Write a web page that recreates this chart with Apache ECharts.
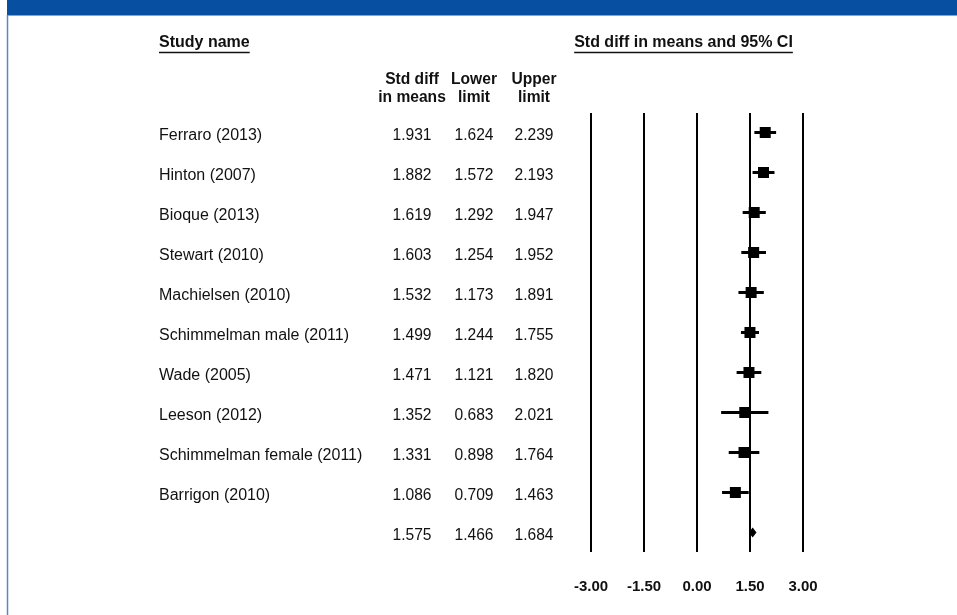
<!DOCTYPE html>
<html>
<head>
<meta charset="utf-8">
<script src="https://cdn.jsdelivr.net/npm/echarts@6/dist/echarts.min.js"></script>
<style>
  html, body { margin: 0; padding: 0; background: #fff; }
  #chart { width: 957px; height: 615px; }
</style>
</head>
<body>
<div id="chart"></div>
<script>
// Forest plot: standardized difference in means with 95% CI per study
const studies = [
  'Ferraro (2013)', 'Hinton (2007)', 'Bioque (2013)', 'Stewart (2010)',
  'Machielsen (2010)', 'Schimmelman male (2011)', 'Wade (2005)',
  'Leeson (2012)', 'Schimmelman female (2011)', 'Barrigon (2010)'
];
const means  = [1.931, 1.882, 1.619, 1.603, 1.532, 1.499, 1.471, 1.352, 1.331, 1.086];
const lowers = [1.624, 1.572, 1.292, 1.254, 1.173, 1.244, 1.121, 0.683, 0.898, 0.709];
const uppers = [2.239, 2.193, 1.947, 1.952, 1.891, 1.755, 1.820, 2.021, 1.764, 1.463];
// pooled estimate
const pooledMean  = [1.575];
const pooledLower = [1.466];
const pooledUpper = [1.684];
const axisTicks = [-3.0, -1.5, 0.0, 1.5, 3.0];

const FONT = '"Liberation Sans", Arial, sans-serif';
const TEXT = '#111';
const FS = 15.6;      // numbers and column headers
const FS_NAME = 16;   // study names
const FS_TITLE = 16;  // underlined titles

const chart = echarts.init(document.getElementById('chart'), null, { renderer: 'canvas' });

// text width helper for underlines
const measureCtx = document.createElement('canvas').getContext('2d');
function textWidth(str, weight, size) {
  measureCtx.font = weight + ' ' + size + 'px ' + FONT;
  return measureCtx.measureText(str).width;
}

const nRows = studies.length + 1; // studies + pooled row
const studyData = studies.map((s, i) => [i, means[i], lowers[i], uppers[i]]);
const pooledData = [[studies.length, pooledMean[0], pooledLower[0], pooledUpper[0]]];

// table rows: name, mean, lower, upper
const tableData = studies.map((s, i) => [i, s, means[i].toFixed(3), lowers[i].toFixed(3), uppers[i].toFixed(3)]);
tableData.push([studies.length, '', pooledMean[0].toFixed(3), pooledLower[0].toFixed(3), pooledUpper[0].toFixed(3)]);

const colName = 159, colMean = 412, colLower = 474, colUpper = 534;

function txt(x, y, str, align, weight, size) {
  return {
    type: 'text',
    x: x, y: y,
    style: {
      text: str, fill: TEXT, align: align || 'left', verticalAlign: 'middle',
      font: (weight || 'normal') + ' ' + (size || FS) + 'px ' + FONT
    }
  };
}

function underlinedTitle(x, y, str, align) {
  const w = textWidth(str, 'bold', FS_TITLE);
  const x0 = align === 'center' ? x - w / 2 : x;
  return [
    txt(x, y, str, align, 'bold', FS_TITLE),
    { type: 'line', shape: { x1: x0, y1: y + 9.5, x2: x0 + w, y2: y + 9.5 },
      style: { stroke: TEXT, lineWidth: 1.4 } }
  ];
}

const option = {
  animation: false,
  backgroundColor: '#fff',
  grid: { left: 591, width: 212, top: 113, height: 439, containLabel: false },
  xAxis: {
    type: 'value',
    min: axisTicks[0], max: axisTicks[axisTicks.length - 1], interval: 1.5,
    axisLine: { show: false },
    axisTick: { show: false },
    splitLine: { show: true, showMinLine: true, showMaxLine: true, lineStyle: { color: '#000', width: 2 } },
    axisLabel: {
      margin: 27,
      color: TEXT,
      fontFamily: FONT, fontWeight: 'bold', fontSize: 15,
      formatter: v => v.toFixed(2)
    }
  },
  yAxis: {
    type: 'value', inverse: true,
    min: -0.4875, max: nRows - 1 + 0.4875,
    show: false,
    splitLine: { show: false }
  },
  graphic: [
    { type: 'rect', shape: { x: 7, y: 0, width: 950, height: 15.5 }, style: { fill: '#074fa1' } },
    { type: 'line', shape: { x1: 7.5, y1: 15, x2: 7.5, y2: 615 }, style: { stroke: '#5d87bf', lineWidth: 1.5 } },
    ...underlinedTitle(colName, 43, 'Study name', 'left'),
    ...underlinedTitle(683.5, 43, 'Std diff in means and 95% CI', 'center'),
    txt(colMean, 80, 'Std diff', 'center', 'bold'),
    txt(colMean, 98, 'in means', 'center', 'bold'),
    txt(colLower, 80, 'Lower', 'center', 'bold'),
    txt(colLower, 98, 'limit', 'center', 'bold'),
    txt(colUpper, 80, 'Upper', 'center', 'bold'),
    txt(colUpper, 98, 'limit', 'center', 'bold')
  ],
  series: [
    {
      // study estimates: CI whisker + square
      type: 'custom',
      data: studyData,
      encode: { x: 1, y: 0 },
      renderItem: function (params, api) {
        const row = api.value(0);
        const c = api.coord([api.value(1), row]);
        const lo = api.coord([api.value(2), row]);
        const hi = api.coord([api.value(3), row]);
        const s = 11;
        return {
          type: 'group',
          children: [
            { type: 'line', shape: { x1: lo[0], y1: c[1], x2: hi[0], y2: c[1] },
              style: { stroke: '#000', lineWidth: 3 } },
            { type: 'rect', shape: { x: c[0] - s / 2, y: c[1] - s / 2, width: s, height: s },
              style: { fill: '#000' } }
          ]
        };
      }
    },
    {
      // pooled estimate diamond
      type: 'custom',
      data: pooledData,
      encode: { x: 1, y: 0 },
      renderItem: function (params, api) {
        const row = api.value(0);
        const c = api.coord([api.value(1), row]);
        const lo = api.coord([api.value(2), row]);
        const hi = api.coord([api.value(3), row]);
        const h = 5;
        return {
          type: 'polygon',
          shape: { points: [[lo[0], c[1]], [c[0], c[1] - h], [hi[0], c[1]], [c[0], c[1] + h]] },
          style: { fill: '#000' }
        };
      }
    },
    {
      // study table columns
      type: 'custom',
      data: tableData,
      clip: false,
      silent: true,
      encode: { y: 0 },
      renderItem: function (params, api) {
        const row = api.value(0);
        const y = api.coord([0, row])[1] + 3;
        const d = tableData[params.dataIndex];
        return {
          type: 'group',
          children: [
            txt(colName, y, d[1], 'left', 'normal', FS_NAME),
            txt(colMean, y, d[2], 'center'),
            txt(colLower, y, d[3], 'center'),
            txt(colUpper, y, d[4], 'center')
          ]
        };
      }
    }
  ]
};

chart.setOption(option);
</script>
</body>
</html>
